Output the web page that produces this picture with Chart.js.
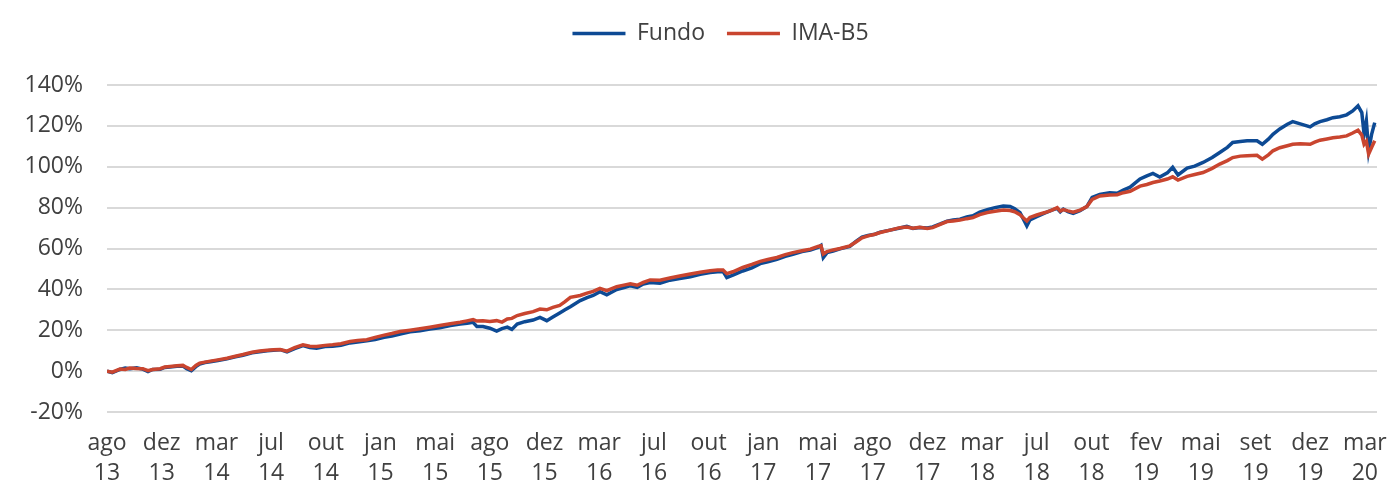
<!DOCTYPE html>
<html>
<head>
<meta charset="utf-8">
<script src="https://cdn.jsdelivr.net/npm/chart.js@4.4.1/dist/chart.umd.min.js"></script>
<style>
  html, body { margin: 0; padding: 0; background: #fff; }
  #wrap { width: 1397px; height: 484px; }
</style>
</head>
<body>
<div id="wrap"><canvas id="myChart"></canvas></div>
<script>
// tick labels, one every 72 trading sessions
var tickLabels = [
    ['ago', '13'], ['dez', '13'], ['mar', '14'], ['jul', '14'], ['out', '14'], ['jan', '15'],
    ['mai', '15'], ['ago', '15'], ['dez', '15'], ['mar', '16'], ['jul', '16'], ['out', '16'],
    ['jan', '17'], ['mai', '17'], ['ago', '17'], ['dez', '17'], ['mar', '18'], ['jul', '18'],
    ['out', '18'], ['fev', '19'], ['mai', '19'], ['set', '19'], ['dez', '19'], ['mar', '20']
];
var tickStep = 72;
var lastSession = 1672;

// session index of each sample
var sessions = [
    0, 7, 17, 24, 30, 39, 47, 54, 60, 70, 76, 83, 92, 100, 105, 111, 117, 122, 129, 136,
    146, 158, 169, 179, 191, 201, 211, 219, 228, 237, 247, 258, 267, 276, 287, 297, 308, 320, 330, 342,
    353, 365, 375, 386, 399, 412, 425, 438, 452, 465, 474, 482, 487, 495, 504, 513, 520, 527, 533, 540,
    550, 561, 570, 579, 587, 596, 603, 610, 623, 632, 640, 649, 658, 671, 682, 689, 698, 706, 715, 728,
    741, 754, 768, 781, 794, 804, 811, 816, 824, 837, 849, 860, 870, 882, 893, 903, 915, 926, 936, 940,
    943, 948, 956, 965, 978, 986, 994, 1002, 1011, 1018, 1031, 1044, 1053, 1061, 1070, 1080, 1087, 1097, 1106, 1114,
    1123, 1132, 1140, 1149, 1159, 1169, 1180, 1189, 1195, 1202, 1207, 1211, 1215, 1224, 1235, 1244, 1251, 1255, 1259, 1265,
    1272, 1281, 1290, 1297, 1307, 1320, 1330, 1338, 1347, 1360, 1369, 1377, 1386, 1396, 1403, 1410, 1422, 1432, 1443, 1455,
    1465, 1475, 1482, 1492, 1501, 1514, 1521, 1529, 1535, 1544, 1554, 1561, 1571, 1584, 1590, 1597, 1606, 1614, 1623, 1632,
    1640, 1647, 1652, 1655, 1658, 1661, 1665, 1669
];

// accumulated return, %
var fundo = [
    0, -0.8, 0.8, 1.5, 1.2, 1.6, 1.0, -0.2, 0.8, 0.9, 1.8, 2.0, 2.4, 2.5, 1.2, 0.2, 2.2, 3.5, 4.2, 4.6,
    5.2, 6.0, 7.0, 7.8, 9.0, 9.5, 10.0, 10.2, 10.5, 9.4, 11.0, 12.5, 11.6, 11.2, 12.0, 12.2, 12.6, 13.8, 14.2, 14.8,
    15.5, 16.5, 17.2, 18.2, 19.2, 19.8, 20.6, 21.2, 22.3, 23.0, 23.4, 23.9, 21.8, 21.8, 21.0, 19.6, 20.8, 21.5, 20.4, 23.0,
    24.2, 25.0, 26.3, 24.7, 26.5, 28.5, 30.0, 31.5, 34.5, 36.0, 37.0, 38.9, 37.3, 39.9, 41.0, 41.8, 41.0, 42.6, 43.4, 43.0,
    44.5, 45.3, 46.2, 47.4, 48.2, 48.6, 48.8, 45.8, 47.0, 49.0, 50.5, 52.6, 53.5, 54.7, 56.2, 57.2, 58.5, 59.2, 60.5, 61.5,
    55.6, 58.0, 58.8, 59.8, 61.0, 63.5, 65.6, 66.4, 67.0, 68.0, 69.0, 70.0, 70.8, 69.8, 70.3, 70.0, 70.6, 72.0, 73.4, 74.0,
    74.3, 75.4, 76.0, 77.8, 79.0, 80.0, 80.8, 80.6, 79.5, 77.5, 74.0, 71.1, 74.0, 75.6, 77.4, 78.8, 79.6, 78.0, 79.3, 78.0,
    77.2, 78.5, 80.5, 85.0, 86.5, 87.3, 87.0, 88.6, 90.0, 94.0, 95.5, 96.7, 95.0, 97.0, 99.7, 96.0, 99.3, 100.3, 102.1, 104.5,
    107.0, 109.5, 111.9, 112.3, 112.7, 112.7, 111.0, 113.5, 115.9, 118.5, 120.8, 122.1, 121.0, 119.5, 121.0, 122.1, 123.0, 124.0, 124.5, 125.4,
    127.3, 129.8, 126.5, 116.0, 122.4, 107.8, 116.0, 121.6
];

var imaB5 = [
    0, -0.5, 1.0, 0.8, 1.5, 1.3, 1.2, 0.2, 0.8, 1.2, 2.0, 2.3, 2.6, 2.8, 1.8, 0.8, 2.8, 3.9, 4.4, 4.9,
    5.5, 6.3, 7.3, 8.1, 9.2, 9.8, 10.2, 10.4, 10.6, 9.8, 11.5, 12.9, 12.2, 12.0, 12.6, 12.9, 13.4, 14.5, 15.0, 15.4,
    16.5, 17.6, 18.4, 19.4, 20.0, 20.7, 21.5, 22.3, 23.2, 23.9, 24.6, 25.2, 24.5, 24.7, 24.3, 24.7, 24.0, 25.5, 25.8, 27.2,
    28.2, 29.1, 30.4, 30.0, 31.2, 32.2, 34.0, 36.1, 37.0, 38.2, 39.0, 40.5, 39.4, 41.3, 42.2, 42.7, 42.0, 43.4, 44.6, 44.5,
    45.6, 46.5, 47.5, 48.4, 49.1, 49.5, 49.5, 47.7, 48.6, 50.7, 52.2, 53.7, 54.6, 55.6, 57.0, 58.0, 58.9, 59.7, 61.0, 61.3,
    57.3, 58.5, 59.3, 60.0, 61.3, 63.2, 65.2, 66.2, 67.0, 67.8, 69.0, 70.2, 70.5, 69.9, 70.4, 69.8, 70.2, 71.8, 73.2, 73.5,
    73.9, 74.6, 75.1, 76.6, 77.6, 78.2, 78.8, 78.6, 78.0, 76.5, 74.8, 73.5, 75.2, 76.4, 77.6, 78.8, 80.0, 78.3, 79.0, 78.4,
    77.8, 78.8, 80.5, 84.0, 85.7, 86.2, 86.3, 87.3, 88.0, 90.5, 91.3, 92.3, 93.0, 94.0, 95.1, 93.5, 95.3, 96.2, 97.2, 99.2,
    101.3, 103.0, 104.5, 105.2, 105.4, 105.6, 103.7, 105.8, 107.8, 109.3, 110.3, 111.0, 111.2, 111.0, 112.0, 113.0, 113.6, 114.2, 114.6, 115.1,
    116.5, 117.9, 115.5, 111.0, 112.5, 106.2, 109.5, 112.7
];

var yTicks = { min: -20, max: 140, step: 20 };

function toPoints(values) {
    return values.map(function(v, i) {
        return { x: sessions[i], y: v };
    });
}

// leave a gap under the legend and move it a bit to the right
var legendNudge = {
    id: 'legendNudge',
    afterInit: function(chart) {
        var legend = chart.legend;
        var fit = legend.fit;
        legend.fit = function() {
            fit.call(this);
            this.height += 30;
        };
    },
    afterLayout: function(chart) {
        chart.legend.left += 32;
        chart.legend.right += 32;
    }
};

var ctx = document.getElementById('myChart').getContext('2d');
Chart.defaults.font.family = "'Open Sans', 'DejaVu Sans', sans-serif";
Chart.defaults.font.size = 23;
Chart.defaults.color = '#404040';

var chart = new Chart(ctx, {
    type: 'line',
    data: {
        datasets: [{
            label: 'Fundo',
            data: toPoints(fundo),
            borderColor: '#0d4a94',
            backgroundColor: '#0d4a94',
            borderWidth: 3.5,
            pointRadius: 0,
            pointStyle: 'line',
            tension: 0,
            order: 1
        },
        {
            label: 'IMA-B5',
            data: toPoints(imaB5),
            borderColor: '#c9452f',
            backgroundColor: '#c9452f',
            borderWidth: 3.5,
            pointRadius: 0,
            pointStyle: 'line',
            tension: 0,
            order: 0
        }]
    },
    options: {
        responsive: true,
        maintainAspectRatio: false,
        animation: false,
        layout: { padding: { left: 0, right: 20, top: 0, bottom: 0 } },
        plugins: {
            legend: {
                position: 'top',
                labels: {
                    usePointStyle: true,
                    pointStyleWidth: 53,
                    padding: 22,
                    sort: function(a, b) { return a.datasetIndex - b.datasetIndex; }
                }
            },
            tooltip: { enabled: false }
        },
        scales: {
            x: {
                type: 'linear',
                min: 0,
                max: lastSession,
                grid: { display: false },
                border: { display: false },
                afterFit: function(scale) { scale.height = 72; },
                ticks: {
                    stepSize: tickStep,
                    includeBounds: false,
                    autoSkip: false,
                    maxRotation: 0,
                    padding: 9,
                    font: { lineHeight: 1.3 },
                    callback: function(value) {
                        var k = Math.round(value / tickStep);
                        return tickLabels[k] || '';
                    }
                }
            },
            y: {
                min: yTicks.min,
                max: yTicks.max,
                grid: { color: '#d9d9d9', lineWidth: 2, drawTicks: false },
                border: { display: false },
                afterFit: function(scale) { scale.width = 107; },
                ticks: {
                    stepSize: yTicks.step,
                    padding: 24,
                    callback: function(value) { return value + '%'; }
                }
            }
        }
    },
    plugins: [legendNudge]
});
</script>
</body>
</html>
